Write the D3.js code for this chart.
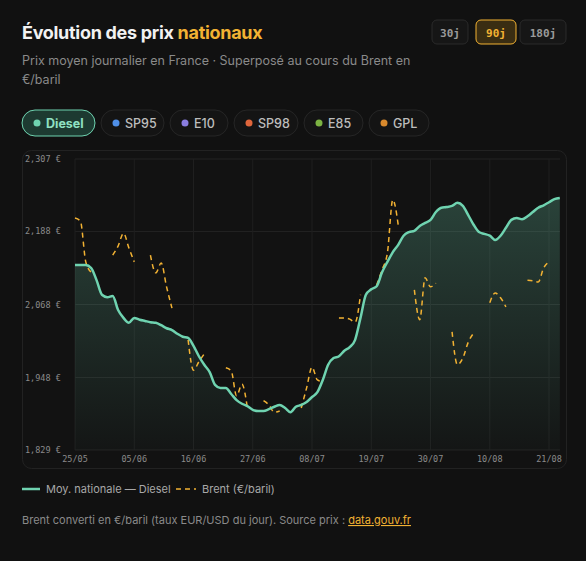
<!DOCTYPE html>
<html><head><meta charset="utf-8">
<script src="https://cdn.jsdelivr.net/npm/d3@7"></script>
<style>
body{margin:0;background:#111111;width:586px;height:561px;overflow:hidden;font-family:Inter,"Noto Sans",sans-serif;}
</style></head><body>
<svg id="c" width="586" height="561"></svg>
<script>
// Day index 0 = 25/05
const tickDays = [0,11,22,33,44,55,66,77,88];
const tickLabels = ["25/05","05/06","16/06","27/06","08/07","19/07","30/07","10/08","21/08"];
const yTicks = [1.829,1.948,2.068,2.188,2.307];
const diesel = [2.133,2.133,2.133,2.128,2.108,2.084,2.080,2.082,2.059,2.046,2.038,2.046,2.043,2.041,2.039,2.038,2.034,2.029,2.026,2.020,2.015,2.013,2.000,1.983,1.969,1.957,1.936,1.931,1.931,1.921,1.911,1.905,1.901,1.895,1.893,1.893,1.896,1.900,1.903,1.898,1.891,1.900,1.903,1.908,1.916,1.924,1.944,1.969,1.980,1.983,1.992,1.998,2.010,2.046,2.084,2.093,2.098,2.121,2.138,2.154,2.166,2.181,2.187,2.189,2.197,2.202,2.207,2.220,2.227,2.228,2.230,2.235,2.230,2.215,2.199,2.187,2.184,2.181,2.174,2.181,2.194,2.207,2.210,2.208,2.213,2.220,2.227,2.231,2.236,2.241,2.243];
const brent = [2.210,2.205,2.138,2.121,null,null,null,2.149,2.164,2.185,2.161,2.138,null,null,2.149,2.120,2.136,2.097,2.062,null,null,2.010,1.960,1.974,1.987,null,null,null,1.964,1.959,1.918,1.937,1.898,null,null,1.910,1.903,1.891,1.893,null,null,null,1.898,1.931,1.965,1.944,1.941,null,null,2.046,2.046,2.044,2.039,2.084,null,null,2.100,2.125,2.153,2.240,2.199,null,null,2.092,2.043,2.112,2.097,2.103,null,null,2.023,1.969,1.980,2.006,2.021,null,null,2.071,2.087,2.079,2.064,null,null,null,2.108,2.107,2.105,2.128,2.138,null,null];
const fuels = ["Diesel","SP95","E10","SP98","E85","GPL"];
const fuelColors = ["#6fd3b0","#4f8fe8","#8a7de0","#e0663c","#7cb342","#d9892c"];
const periods = ["30j","90j","180j"];

const svg = d3.select("#c");
const orange = "#f2b233";
// Title
const t = svg.append("text").attr("x",22).attr("y",39).attr("font-size",18).attr("font-weight",700).attr("fill","#f2f2f2").attr("letter-spacing","-0.3");
t.append("tspan").text("Évolution des prix ");
t.append("tspan").attr("fill",orange).text("nationaux");
svg.append("text").attr("x",22).attr("y",65).attr("font-size",12.5).attr("fill","#8a8a8a").text("Prix moyen journalier en France · Superposé au cours du Brent en");
svg.append("text").attr("x",22).attr("y",84).attr("font-size",12.5).attr("fill","#8a8a8a").text("€/baril");
// period buttons
const px=[432,476,520], pw=[36,40,46];
periods.forEach((p,i)=>{
  const sel=i===1;
  svg.append("rect").attr("x",px[i]).attr("y",20).attr("width",pw[i]).attr("height",24).attr("rx",5)
    .attr("fill",sel?"#3a2d12":"#161616").attr("stroke",sel?orange:"#2a2a2a");
  svg.append("text").attr("x",px[i]+pw[i]/2).attr("y",36.5).attr("text-anchor","middle").attr("font-family","DejaVu Sans Mono,monospace")
    .attr("font-size",11).attr("font-weight",700).attr("fill",sel?orange:"#9a9a9a").text(p);
});
// fuel pills
const pillX=[22,101,170,234,304,369], pillW=[73,63,58,64,59,60];
fuels.forEach((f,i)=>{
  const sel=i===0;
  svg.append("rect").attr("x",pillX[i]).attr("y",110).attr("width",pillW[i]).attr("height",26).attr("rx",13)
    .attr("fill",sel?"#1d3a31":"#141414").attr("stroke",sel?"#6fd3b0":"#262626");
  svg.append("circle").attr("cx",pillX[i]+15).attr("cy",123).attr("r",3.5).attr("fill",fuelColors[i]);
  svg.append("text").attr("x",pillX[i]+24).attr("y",127.5).attr("font-size",12.5).attr("font-weight",sel?700:500)
    .attr("fill",sel?"#8fe0c2":"#bdbdbd").text(f);
});
// chart card
svg.append("rect").attr("x",22.5).attr("y",150.5).attr("width",544).attr("height",318).attr("rx",9).attr("fill","#121212").attr("stroke","#222");

const x = d3.scaleLinear().domain([0,90]).range([75,559.8]);
const y = d3.scaleLinear().domain([1.829,2.307]).range([450,159]);
const g = svg.append("g");
// grid
g.selectAll(".hg").data(yTicks).join("line").attr("x1",75).attr("x2",560).attr("y1",d=>y(d)).attr("y2",d=>y(d)).attr("stroke","#232323");
g.selectAll(".vg").data(tickDays).join("line").attr("y1",159).attr("y2",450).attr("x1",d=>x(d)).attr("x2",d=>x(d)).attr("stroke","#1f1f1f");
const fmt = d=>d.toFixed(3).replace(".",",")+" €";
g.selectAll(".yl").data(yTicks).join("text").attr("x",25).attr("y",d=>y(d)+3).attr("font-family","DejaVu Sans Mono,monospace").attr("font-size",8.5).attr("fill","#8a8a8a").text(fmt);
g.selectAll(".xl").data(tickDays).join("text").attr("x",d=>x(d)).attr("y",462).attr("text-anchor","middle").attr("font-family","DejaVu Sans Mono,monospace").attr("font-size",8.5).attr("fill","#8a8a8a").text((d,i)=>tickLabels[i]);

const defs = svg.append("defs");
const gr = defs.append("linearGradient").attr("id","ga").attr("x1",0).attr("x2",0).attr("y1",0).attr("y2",1);
gr.append("stop").attr("offset","0%").attr("stop-color","#6fd3b0").attr("stop-opacity",0.25);
gr.append("stop").attr("offset","100%").attr("stop-color","#6fd3b0").attr("stop-opacity",0.02);

g.append("path").datum(diesel).attr("fill","url(#ga)")
  .attr("d",d3.area().x((d,i)=>x(i)).y0(450).y1(d=>y(d)).curve(d3.curveMonotoneX));
g.append("path").datum(brent).attr("fill","none").attr("stroke",orange).attr("stroke-width",1.5).attr("stroke-dasharray","5,4")
  .attr("d",d3.line().defined(d=>d!==null).x((d,i)=>x(i)).y(d=>y(d)).curve(d3.curveMonotoneX));
g.append("path").datum(diesel).attr("fill","none").attr("stroke","#6fd3b0").attr("stroke-width",2.5)
  .attr("d",d3.line().x((d,i)=>x(i)).y(d=>y(d)).curve(d3.curveMonotoneX));

// legend
svg.append("line").attr("x1",22).attr("x2",40).attr("y1",489).attr("y2",489).attr("stroke","#6fd3b0").attr("stroke-width",2.5);
svg.append("text").attr("x",46).attr("y",493).attr("font-size",11).attr("fill","#a8a8a8").text("Moy. nationale — Diesel");
svg.append("line").attr("x1",176).attr("x2",196).attr("y1",489).attr("y2",489).attr("stroke",orange).attr("stroke-width",1.5).attr("stroke-dasharray","5,4");
svg.append("text").attr("x",202).attr("y",493).attr("font-size",11).attr("fill","#a8a8a8").text("Brent (€/baril)");
// footer
const f = svg.append("text").attr("x",22).attr("y",524).attr("font-size",11).attr("fill","#8a8a8a");
f.append("tspan").text("Brent converti en €/baril (taux EUR/USD du jour). Source prix : ");
f.append("tspan").attr("fill",orange).attr("text-decoration","underline").text("data.gouv.fr");
</script></body></html>
